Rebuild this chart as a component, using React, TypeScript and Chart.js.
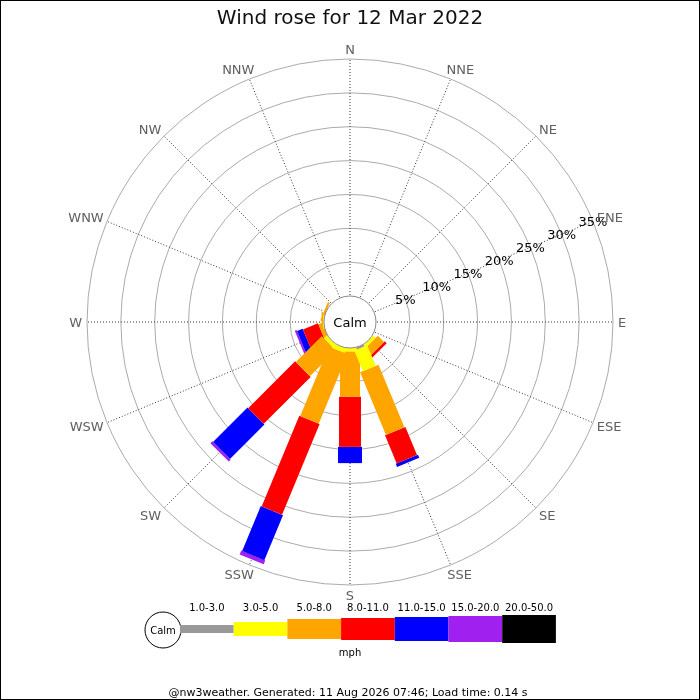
import { useEffect, useRef } from 'react';
import { Chart, registerables } from 'chart.js';

Chart.register(...registerables);

const DIRECTIONS = ['N', 'NNE', 'NE', 'ENE', 'E', 'ESE', 'SE', 'SSE', 'S', 'SSW', 'SW', 'WSW', 'W', 'WNW', 'NW', 'NNW'];
const SPEED_BINS = ['1.0-3.0', '3.0-5.0', '5.0-8.0', '8.0-11.0', '11.0-15.0', '15.0-20.0', '20.0-50.0'];
const BIN_COLORS = ['#999999', '#ffff00', '#ffa500', '#ff0000', '#0000ff', '#a020f0', '#000000'];

// % of readings per direction (N .. NNW), one array per speed bin (mph)
const BIN_1_3 = [0, 0, 0, 0, 0, 0, 0, 0.3, 0, 0, 0, 0, 0, 0, 0, 0];
const BIN_3_5 = [0, 0, 0, 0, 0, 0, 0.5, 3.3, 0.5, 0.7, 0.6, 0, 0.1, 0, 0, 0];
const BIN_5_8 = [0, 0, 0, 0, 0, 0, 1.3, 10.0, 6.7, 11.1, 5.4, 0.6, 0.25, 0.3, 0, 0];
const BIN_8_11 = [0, 0, 0, 0, 0, 0, 0.4, 4.5, 7.4, 14.5, 9.8, 2.4, 0, 0, 0, 0];
const BIN_11_15 = [0, 0, 0, 0, 0, 0, 0, 0.5, 2.4, 7.2, 7.2, 0.9, 0, 0, 0, 0];
const BIN_15_20 = [0, 0, 0, 0, 0, 0, 0, 0, 0, 0.6, 0.4, 0.3, 0, 0, 0, 0];
const BIN_20_50 = [0, 0, 0, 0, 0, 0, 0, 0, 0, 0, 0, 0, 0, 0, 0, 0];
const SERIES = [BIN_1_3, BIN_3_5, BIN_5_8, BIN_8_11, BIN_11_15, BIN_15_20, BIN_20_50];

const RING_TICKS = [5, 10, 15, 20, 25, 30, 35];
const TICK_SPOKE = 3; // ENE

// leg thickness per speed bin (px)
const LEG_WIDTHS = [8, 14, 20, 22, 24, 26, 28];
const R_MAX = 35;
const R_MIN = -R_MAX * 26 / 237; // leaves room for the calm circle

const FONT = "'DejaVu Sans', sans-serif";
const CAP = 0.729; // DejaVu cap height / em

const roseDecor = {
    id: 'roseDecor',
    afterDatasetsDraw(chart: any) {
        const ctx = chart.ctx as CanvasRenderingContext2D;
        const r = chart.scales.r;
        const cx = r.xCenter;
        const cy = r.yCenter;

        // legs, outer bins first so the inner ones sit on top near the middle
        for (let b = SERIES.length - 1; b >= 0; b--) {
            for (let i = 0; i < DIRECTIONS.length; i++) {
                const val = SERIES[b][i];
                if (!val) continue;
                let base = 0;
                for (let k = 0; k < b; k++) base += SERIES[k][i];
                const r0 = r.getDistanceFromCenterForValue(base);
                const r1 = r.getDistanceFromCenterForValue(base + val);
                const w = LEG_WIDTHS[b];
                ctx.save();
                ctx.translate(cx, cy);
                ctx.rotate(r.getIndexAngle(i) - Math.PI / 2);
                ctx.fillStyle = BIN_COLORS[b];
                ctx.fillRect(r0, -w / 2, r1 - r0, w);
                ctx.restore();
            }
        }

        ctx.save();
        ctx.textAlign = 'center';
        ctx.textBaseline = 'alphabetic';

        // calm circle
        const calmR = r.getDistanceFromCenterForValue(0);
        ctx.beginPath();
        ctx.arc(cx, cy, calmR, 0, Math.PI * 2);
        ctx.fillStyle = '#ffffff';
        ctx.fill();
        ctx.strokeStyle = '#888888';
        ctx.lineWidth = 1;
        ctx.stroke();
        ctx.fillStyle = '#000000';
        ctx.font = `13px ${FONT}`;
        const half13 = (13 * CAP) / 2;
        ctx.fillText('Calm', cx, cy + half13);

        // ring labels along the ENE spoke
        RING_TICKS.forEach((v) => {
            const p = r.getPointPosition(TICK_SPOKE, r.getDistanceFromCenterForValue(v));
            ctx.fillText(v + '%', p.x, p.y + half13);
        });

        // compass labels
        const outer = r.getDistanceFromCenterForValue(R_MAX) + 5.5;
        ctx.fillStyle = '#606060';
        DIRECTIONS.forEach((d, i) => {
            const a = r.getIndexAngle(i);
            const ux = Math.sin(a);
            const uy = -Math.cos(a);
            const tw = ctx.measureText(d).width;
            const p = r.getPointPosition(i, outer);
            const x = p.x + Math.sign(ux) * Math.min(0.9, 1.45 * Math.abs(ux)) * tw / 2;
            const y = p.y + uy * half13;
            ctx.fillText(d, x, y + half13);
        });

        // speed legend
        const lx = 180;
        const ly = 629;
        const segW = 53.7;
        ctx.beginPath();
        ctx.arc(163, 630, 18, 0, Math.PI * 2);
        ctx.fillStyle = '#ffffff';
        ctx.fill();
        ctx.strokeStyle = '#000000';
        ctx.stroke();
        ctx.font = `10px ${FONT}`;
        ctx.fillStyle = '#000000';
        ctx.fillText('Calm', 163, 634);
        SPEED_BINS.forEach((label, b) => {
            const h = LEG_WIDTHS[b];
            ctx.fillStyle = BIN_COLORS[b];
            ctx.fillRect(lx + b * segW, ly - h / 2, segW, h);
            ctx.fillStyle = '#000000';
            ctx.fillText(label, lx + b * segW + segW / 2, 610.7);
        });
        ctx.fillText('mph', 350, 655.5);

        // footer
        ctx.font = `11px ${FONT}`;
        ctx.fillText('@nw3weather. Generated: 11 Aug 2026 07:46; Load time: 0.14 s', 348, 696.3);

        // frame
        ctx.strokeStyle = '#000000';
        ctx.lineWidth = 1;
        ctx.strokeRect(0.5, 0.5, chart.width - 1, chart.height - 1);
        ctx.restore();
    },
};

export default function App() {
    const chartRef = useRef<HTMLCanvasElement>(null);
    const chartInstanceRef = useRef<Chart | null>(null);

    useEffect(() => {
        if (!chartRef.current) return;
        if (chartInstanceRef.current) chartInstanceRef.current.destroy();

        Chart.defaults.font.family = FONT;

        chartInstanceRef.current = new Chart(chartRef.current, {
            type: 'radar',
            data: {
                labels: DIRECTIONS,
                datasets: SPEED_BINS.map((label, b) => ({
                    label,
                    data: SERIES[b],
                    backgroundColor: BIN_COLORS[b],
                    borderColor: BIN_COLORS[b],
                    borderWidth: 0,
                    pointRadius: 0,
                    pointHoverRadius: 0,
                    fill: false,
                    showLine: false,
                })),
            },
            options: {
                responsive: true,
                maintainAspectRatio: false,
                animation: false,
                events: [],
                layout: {
                    padding: { left: 87, right: 87, top: 0, bottom: 115 },
                },
                plugins: {
                    legend: { display: false },
                    tooltip: { enabled: false },
                    title: {
                        display: true,
                        text: 'Wind rose for 12 Mar 2022',
                        color: '#111111',
                        font: { size: 20, weight: 'normal' },
                        padding: { top: 7, bottom: 28 },
                    },
                },
                scales: {
                    r: {
                        min: R_MIN,
                        max: R_MAX,
                        startAngle: 0,
                        ticks: { display: false, stepSize: 5 },
                        pointLabels: { display: false },
                        grid: { circular: true, color: '#aaaaaa', lineWidth: 1 },
                        angleLines: { display: true, color: '#333333', lineWidth: 1, borderDash: [1, 2] },
                        afterBuildTicks: (scale: any) => {
                            scale.ticks = RING_TICKS.map((v) => ({ value: v }));
                        },
                    },
                },
            },
            plugins: [roseDecor],
        } as any);

        return () => {
            if (chartInstanceRef.current) {
                chartInstanceRef.current.destroy();
                chartInstanceRef.current = null;
            }
        };
    }, []);

    return (
        <div style={{ position: 'fixed', left: 0, top: 0, width: 700, height: 700, background: '#ffffff' }}>
            <canvas ref={chartRef}></canvas>
        </div>
    );
}
